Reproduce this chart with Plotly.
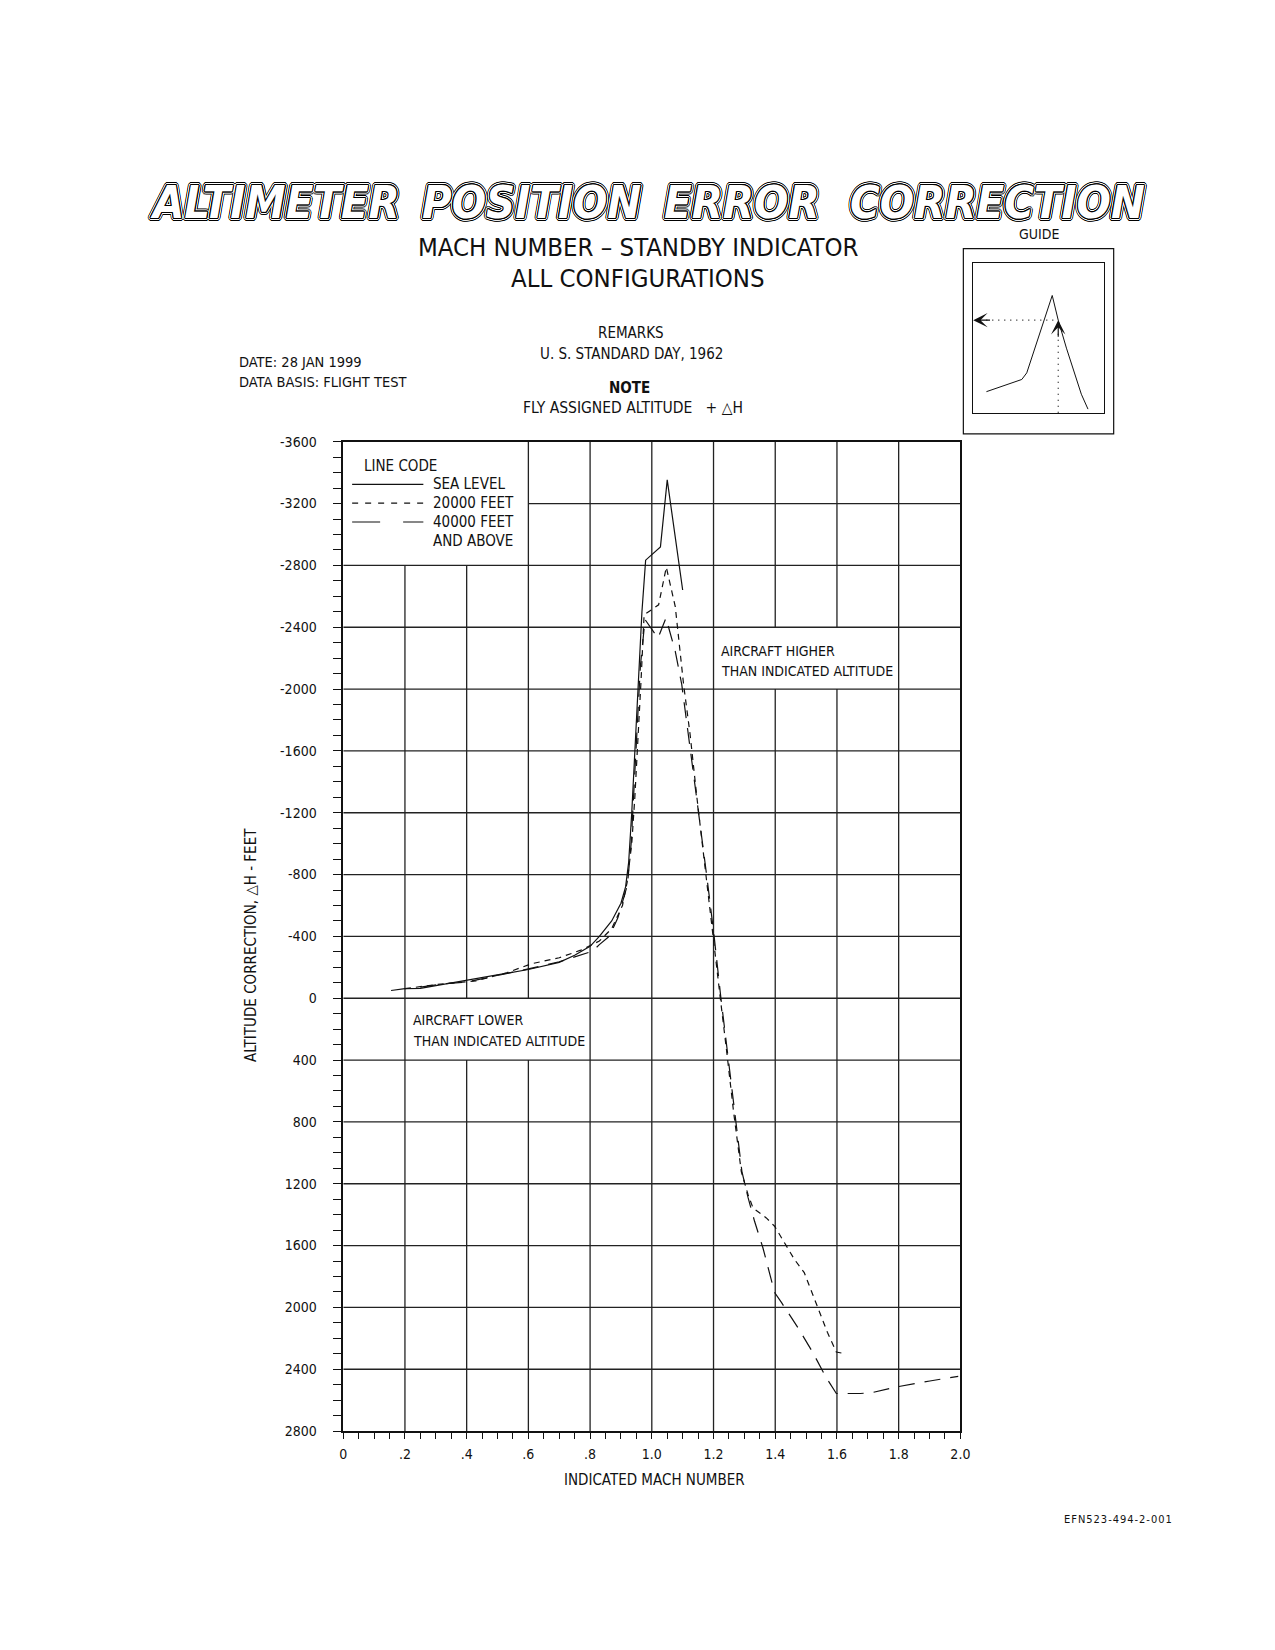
"""Altimeter position error correction - Mach number, standby indicator.

Curves read off the flight-test chart; everything is drawn with Plotly and
written to out.html.
"""

import math

import plotly.graph_objects as go

FIG_W, FIG_H = 1275, 1650

# indicated Mach number vs altitude correction dH (ft), one pair per line code
SEA_LEVEL_MACH = [0.155, 0.20, 0.25, 0.40, 0.50, 0.60, 0.70, 0.75, 0.80, 0.83,
                  0.87, 0.90, 0.915, 0.925, 0.935, 0.945, 0.955, 0.968, 0.98,
                  1.028, 1.05, 1.10]
SEA_LEVEL_DH = [-50, -62, -64, -116, -150, -186, -232, -278, -336, -400,
                -500, -615, -720, -880, -1200, -1600, -2000, -2500, -2834,
                -2920, -3353, -2641]

FT20K_MACH = [0.20, 0.30, 0.43, 0.53, 0.61, 0.70, 0.77, 0.83, 0.87, 0.905,
              0.92, 0.935, 0.945, 0.955, 0.965, 0.975, 0.99, 1.022, 1.047,
              1.076, 1.103, 1.124, 1.146, 1.178, 1.20, 1.222, 1.243, 1.265,
              1.29, 1.312, 1.328, 1.371, 1.398, 1.462, 1.494, 1.537, 1.569,
              1.598, 1.628]
FT20K_DH = [-62, -88, -112, -165, -223, -262, -311, -370, -450, -600,
            -750, -1000, -1300, -1650, -2050, -2480, -2500, -2545, -2788,
            -2534, -2030, -1708, -1301, -770, -400, 0, 350, 735,
            1121, 1271, 1357, 1421, 1475, 1689, 1775, 1989, 2161,
            2289, 2300]

FT40K_MACH = [0.25, 0.32, 0.40, 0.50, 0.60, 0.70, 0.787, 0.808, 0.83, 0.862,
              0.89, 0.905, 0.921, 0.933, 0.943, 0.953, 0.963, 0.978, 1.02,
              1.046, 1.076, 1.097, 1.119, 1.145, 1.18, 1.202, 1.224, 1.245,
              1.267, 1.292, 1.312, 1.333, 1.36, 1.387, 1.398, 1.42, 1.473,
              1.521, 1.564, 1.598, 1.676, 1.714, 1.794, 1.901, 1.993]
FT40K_DH = [-72, -92, -105, -145, -190, -236, -289, -304, -347, -400,
            -520, -620, -733, -1000, -1400, -1800, -2150, -2450, -2330,
            -2460, -2244, -2030, -1710, -1300, -760, -400, 0, 350,
            735, 1121, 1290, 1443, 1614, 1828, 1904, 1968, 2129,
            2289, 2450, 2557, 2557, 2551, 2514, 2476, 2446]

X_TICKS = [0, 0.2, 0.4, 0.6, 0.8, 1.0, 1.2, 1.4, 1.6, 1.8, 2.0]
X_TICK_TEXT = ["0", ".2", ".4", ".6", ".8", "1.0", "1.2", "1.4", "1.6", "1.8", "2.0"]
Y_TICKS = list(range(-3600, 2801, 400))
Y_TICK_TEXT = [str(v) for v in Y_TICKS]

# guide sketch, unitless 0..1 inside the small box
GUIDE_X = [0.101, 0.372, 0.41, 0.605, 0.651, 0.714, 0.828, 0.879]
GUIDE_Y = [0.142, 0.223, 0.267, 0.781, 0.617, 0.431, 0.125, 0.026]
GUIDE_READ = (0.651, 0.617)

# grid cells kept empty for text: (mach0, mach1, dh0, dh1)
BLANK_BOXES = [(0.0, 0.6, -3600, -2800), (1.2, 1.8, -2400, -2000), (0.2, 0.8, 0, 400)]

FONT = "Liberation Sans Narrow, DejaVu Sans Condensed, Arial Narrow, sans-serif"

# plot box in page pixels
PLOT_L, PLOT_R, PLOT_T, PLOT_B = 343, 967, 438, 1437


def px(x):
    return x / FIG_W


def py(y):
    return 1 - y / FIG_H


def _segments(fixed, lo, hi, cuts):
    """Split [lo, hi] around the (a, b) cuts whose span contains fixed."""
    gaps = sorted((a, b) for (f0, f1, a, b) in cuts if f0 < fixed < f1)
    segs, start = [], lo
    for a, b in gaps:
        if a > start:
            segs.append((start, a))
        start = max(start, b)
    if start < hi:
        segs.append((start, hi))
    return segs


def _ring(radius, color, steps=16):
    out = []
    for k in range(steps):
        a = 2 * math.pi * k / steps
        out.append(f"{radius * math.cos(a):.2f}px {radius * math.sin(a):.2f}px 0 {color}")
    return out


def text(s, x, y, size=15, **kw):
    d = dict(text=s, x=px(x), y=py(y), xref="paper", yref="paper", showarrow=False,
             xanchor="center", yanchor="middle",
             font=dict(family=FONT, size=size, color="#111"))
    d.update(kw)
    return d


def build():
    fig = go.Figure()
    line = dict(color="#111", width=1.2)

    fig.add_trace(go.Scatter(x=SEA_LEVEL_MACH, y=SEA_LEVEL_DH, mode="lines",
                             line=line, name="SEA LEVEL"))
    fig.add_trace(go.Scatter(x=FT20K_MACH, y=FT20K_DH, mode="lines",
                             line=dict(line, dash="6px,5px"), name="20000 FEET"))
    fig.add_trace(go.Scatter(x=FT40K_MACH, y=FT40K_DH, mode="lines",
                             line=dict(line, dash="16px,10px"), name="40000 FEET"))

    # guide sketch on its own small axes
    fig.add_trace(go.Scatter(x=GUIDE_X, y=GUIDE_Y, mode="lines", line=dict(color="#111", width=1),
                             xaxis="x2", yaxis="y2"))
    gx, gy = GUIDE_READ
    fig.add_trace(go.Scatter(x=[0.1, gx, None, gx, gx], y=[gy, gy, None, gy - 0.09, 0],
                             mode="lines", line=dict(color="#111", width=1.2, dash="1px,5px"),
                             xaxis="x2", yaxis="y2"))

    # grid with the text cells left open
    shapes = []
    grid = dict(color="#222", width=1.3)
    x_lo, x_hi = X_TICKS[0], X_TICKS[-1]
    y_lo, y_hi = Y_TICKS[0], Y_TICKS[-1]
    for xv in X_TICKS[1:-1]:
        for a, b in _segments(xv, y_lo, y_hi, BLANK_BOXES):
            shapes.append(dict(type="line", xref="x", yref="y", x0=xv, x1=xv, y0=a, y1=b,
                               line=grid, layer="below"))
    flipped = [(b0, b1, a0, a1) for (a0, a1, b0, b1) in BLANK_BOXES]
    for yv in Y_TICKS[1:-1]:
        for a, b in _segments(yv, x_lo, x_hi, flipped):
            shapes.append(dict(type="line", xref="x", yref="y", x0=a, x1=b, y0=yv, y1=yv,
                               line=grid, layer="below"))

    # line code key
    key = [("SEA LEVEL", None, 481), ("20000 FEET", "6px,7px", 500), ("40000 FEET", "28px,23px", 519)]
    anns = [text("LINE CODE", 401, 462, 15)]
    for label, dash, yk in key:
        shapes.append(dict(type="line", xref="paper", yref="paper", x0=px(352), x1=px(424),
                           y0=py(yk), y1=py(yk), line=dict(color="#111", width=1.1, dash=dash)))
        anns.append(text(label, 432, yk, 15, xanchor="left"))
    anns.append(text("AND ABOVE", 432, 538, 15, xanchor="left"))

    # guide frame
    shapes.append(dict(type="rect", xref="paper", yref="paper", x0=px(970), x1=px(1122),
                       y0=py(430), y1=py(243), line=dict(color="#111", width=1.2)))

    # outlined italic headline, one word at a time for the wide gaps
    shadow = ", ".join(_ring(0.9, "#000") + _ring(1.9, "#fff") + _ring(2.8, "#000"))
    for word, cx in [("ALTIMETER", 274), ("POSITION", 533), ("ERROR", 746), ("CORRECTION", 1005)]:
        anns.append(text(word, cx, 196, 45, font=dict(family=FONT, size=45, color="#fff",
                                                      weight="bold", style="italic",
                                                      shadow=shadow)))

    anns += [
        text("MACH NUMBER \u2013 STANDBY INDICATOR", 641, 241, 25.5),
        text("ALL CONFIGURATIONS", 641, 273, 25.5),
        text("REMARKS", 634, 328),
        text("U. S. STANDARD DAY, 1962", 634, 349),
        text("<b>NOTE</b>", 632, 384),
        text("FLY ASSIGNED ALTITUDE \u00a0\u00a0+ \u25b3H", 636, 404, 15.5),
        text("DATE: 28 JAN 1999", 236, 357, 14.5, xanchor="left"),
        text("DATA BASIS: FLIGHT TEST", 236, 378, 14.5, xanchor="left"),
        text("GUIDE", 1046, 228, 14),
        text("AIRCRAFT HIGHER", 723, 649, 14, xanchor="left"),
        text("THAN INDICATED ALTITUDE", 723, 669, 14, xanchor="left"),
        text("AIRCRAFT LOWER", 412, 1022, 14, xanchor="left"),
        text("THAN INDICATED ALTITUDE", 412, 1043, 14, xanchor="left"),
        text("INDICATED MACH NUMBER", 658, 1486, 15),
        text("ALTITUDE CORRECTION, \u25b3H - FEET", 250, 946, 15, textangle=-90),
        text("\u200a".join("EFN523-494-2-001"), 1126, 1526, 11),
        # guide arrows
        dict(x=0.0, y=gy, ax=0.14, ay=gy, xref="x2", yref="y2", axref="x2", ayref="y2",
             showarrow=True, arrowhead=3, arrowsize=2, arrowwidth=1.2, arrowcolor="#111", text=""),
        dict(x=gx, y=gy, ax=gx, ay=gy - 0.12, xref="x2", yref="y2", axref="x2", ayref="y2",
             showarrow=True, arrowhead=3, arrowsize=2, arrowwidth=1.2, arrowcolor="#111", text=""),
    ]

    tickfont = dict(family=FONT, size=14, color="#111")
    fig.update_layout(
        width=FIG_W, height=FIG_H,
        margin=dict(l=0, r=0, t=0, b=0),
        paper_bgcolor="white", plot_bgcolor="white",
        showlegend=False,
        shapes=shapes, annotations=anns,
        xaxis=dict(domain=[px(PLOT_L), px(PLOT_R)], range=[x_lo, x_hi],
                   tickvals=X_TICKS, ticktext=X_TICK_TEXT, tickfont=tickfont,
                   ticks="outside", ticklen=6, tickcolor="#111", ticklabelstandoff=3,
                   minor=dict(dtick=0.05, tick0=0, ticks="outside", ticklen=6, tickcolor="#111",
                              showgrid=False),
                   showgrid=False, zeroline=False, showline=True, mirror=True,
                   linecolor="#111", linewidth=1.5, anchor="y"),
        yaxis=dict(domain=[py(PLOT_B), py(PLOT_T)], range=[y_hi, y_lo],
                   tickvals=Y_TICKS, ticktext=Y_TICK_TEXT, tickfont=tickfont,
                   ticks="outside", ticklen=8, tickcolor="#111", ticklabelstandoff=14,
                   minor=dict(dtick=100, tick0=0, ticks="outside", ticklen=8, tickcolor="#111",
                              showgrid=False),
                   showgrid=False, zeroline=False, showline=True, mirror=True,
                   linecolor="#111", linewidth=1.5, anchor="x"),
        xaxis2=dict(domain=[px(980), px(1112)], range=[0, 1], showgrid=False, zeroline=False,
                    showticklabels=False, ticks="", showline=True, mirror=True,
                    linecolor="#111", linewidth=1.2, anchor="y2"),
        yaxis2=dict(domain=[py(409), py(257)], range=[0, 1], showgrid=False, zeroline=False,
                    showticklabels=False, ticks="", showline=True, mirror=True,
                    linecolor="#111", linewidth=1.2, anchor="x2"),
    )
    return fig


if __name__ == "__main__":
    fig = build()
    # page coordinates start at the window corner
    fig.write_html("out.html", config={"displayModeBar": False},
                   post_script="document.body.style.margin='0';")
